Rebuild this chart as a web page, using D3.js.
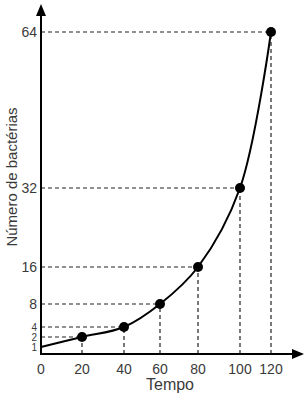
<!DOCTYPE html>
<html>
<head>
<meta charset="utf-8">
<script src="https://cdn.jsdelivr.net/npm/d3@7"></script>
<style>
  body { margin: 0; background: #fff; }
  text { font-family: "Liberation Sans", Arial, sans-serif; fill: #3a3a3a; }
</style>
</head>
<body>
<svg id="chart" width="305" height="400"></svg>
<script>
// data
const tempo = [0, 20, 40, 60, 80, 100, 120];
const bacterias = [1, 2, 4, 8, 16, 32, 64];
const xTicks = [0, 20, 40, 60, 80, 100, 120];
const yTicks = [1, 2, 4, 8, 16, 32, 64];

// the original drawing is not evenly spaced, so the scales are piecewise
const xRange = [41, 82, 124, 160, 198, 240, 271];
const yRange = [347, 337, 327, 304, 267, 188, 32];

const svg = d3.select("#chart");
const originX = 41, originY = 354;

const x = d3.scaleLinear().domain(xTicks).range(xRange);
const y = d3.scaleLinear().domain(yTicks).range(yRange);

const points = tempo.map((t, i) => ({ t: t, n: bacterias[i] }));

// dashed guides
const guides = svg.append("g")
    .attr("stroke", "#222")
    .attr("stroke-width", 1.2)
    .attr("stroke-dasharray", "4,3");

guides.selectAll(".h")
    .data(points.filter(d => d.t > 0))
    .enter().append("line")
    .attr("x1", originX)
    .attr("x2", d => x(d.t))
    .attr("y1", d => y(d.n))
    .attr("y2", d => y(d.n));

guides.selectAll(".v")
    .data(points.filter(d => d.t > 0))
    .enter().append("line")
    .attr("x1", d => x(d.t))
    .attr("x2", d => x(d.t))
    .attr("y1", originY)
    .attr("y2", d => y(d.n));

// curve
const line = d3.line()
    .x(d => x(d.t))
    .y(d => y(d.n))
    .curve(d3.curveCatmullRom.alpha(0.5));

svg.append("path")
    .datum(points)
    .attr("d", line)
    .attr("fill", "none")
    .attr("stroke", "#000")
    .attr("stroke-width", 2);

svg.selectAll(".dot")
    .data(points.filter(d => d.t > 0))
    .enter().append("circle")
    .attr("cx", d => x(d.t))
    .attr("cy", d => y(d.n))
    .attr("r", 5)
    .attr("fill", "#000");

// axes with arrows
svg.append("line")
    .attr("x1", originX).attr("x2", originX)
    .attr("y1", originY + 1).attr("y2", 12)
    .attr("stroke", "#000").attr("stroke-width", 2);
svg.append("path")
    .attr("d", `M${originX - 5},16 L${originX},4 L${originX + 5},16 Z`)
    .attr("fill", "#000");

svg.append("line")
    .attr("x1", originX - 1).attr("x2", 296)
    .attr("y1", originY).attr("y2", originY)
    .attr("stroke", "#000").attr("stroke-width", 2);
svg.append("path")
    .attr("d", `M292,${originY - 5} L304,${originY} L292,${originY + 5} Z`)
    .attr("fill", "#000");

// tick labels (the three lowest are squeezed, so they are smaller)
svg.selectAll(".yt")
    .data(yTicks)
    .enter().append("text")
    .attr("x", originX - 4)
    .attr("y", d => y(d))
    .attr("dy", "0.36em")
    .attr("text-anchor", "end")
    .attr("font-size", d => d < 8 ? 10 : 14)
    .text(d => d);

svg.selectAll(".xt")
    .data(xTicks)
    .enter().append("text")
    .attr("x", d => x(d))
    .attr("y", originY + 15)
    .attr("dy", "0.36em")
    .attr("text-anchor", "middle")
    .attr("font-size", 14)
    .text(d => d);

// titles
svg.append("text")
    .attr("x", 170)
    .attr("y", 384)
    .attr("dy", "0.36em")
    .attr("text-anchor", "middle")
    .attr("font-size", 16)
    .text("Tempo");

svg.append("text")
    .attr("transform", "translate(12,177) rotate(-90)")
    .attr("dy", "0.36em")
    .attr("text-anchor", "middle")
    .attr("font-size", 15)
    .text("Número de bactérias");
</script>
</body>
</html>
